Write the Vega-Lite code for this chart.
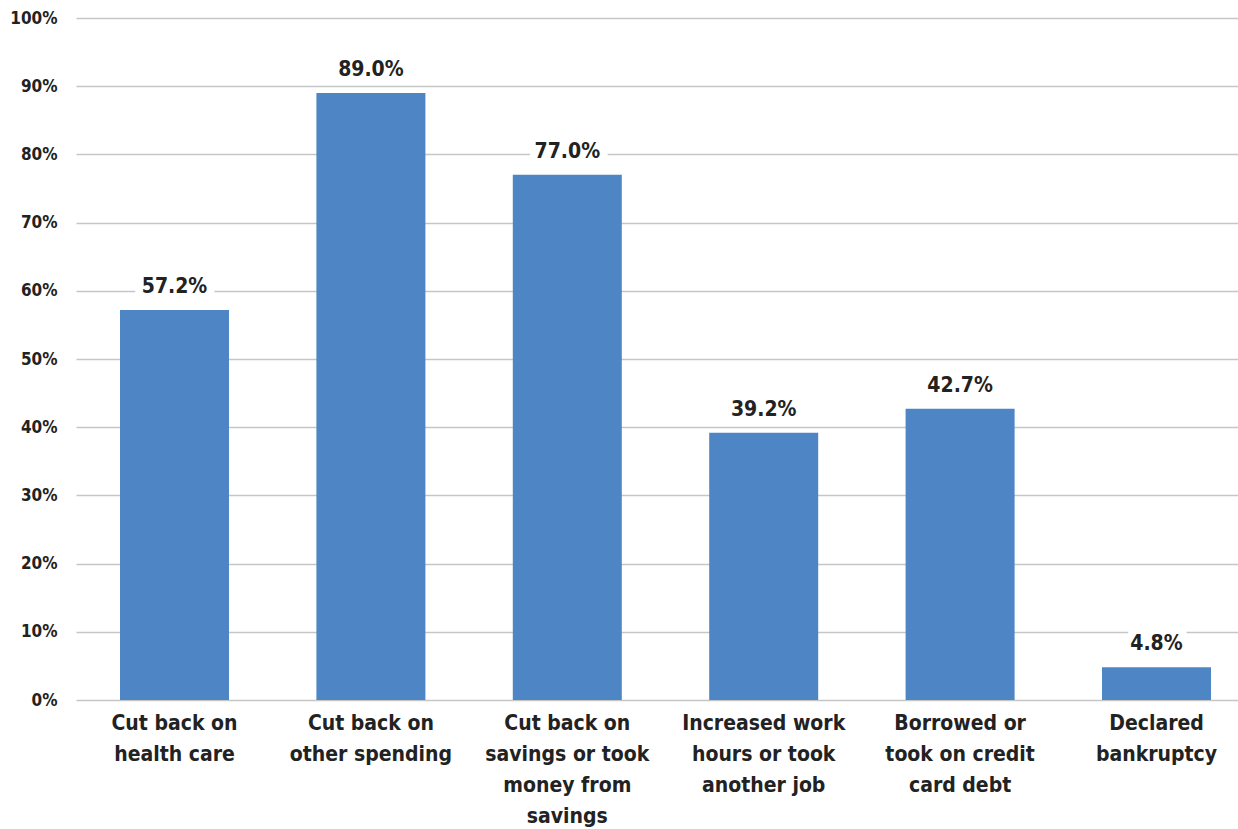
{
  "$schema": "https://vega.github.io/schema/vega-lite/v6.json",
  "autosize": "none",
  "width": 1179,
  "height": 682,
  "padding": {"left": 76, "top": 18, "right": 0, "bottom": 129},
  "background": "white",
  "data": {
    "values": [
      {"category": "Cut back on|health care", "value": 0.572, "label": "57.2%"},
      {"category": "Cut back on|other spending", "value": 0.89, "label": "89.0%"},
      {"category": "Cut back on|savings or took|money from|savings", "value": 0.77, "label": "77.0%"},
      {"category": "Increased work|hours or took|another job", "value": 0.392, "label": "39.2%"},
      {"category": "Borrowed or|took on credit|card debt", "value": 0.427, "label": "42.7%"},
      {"category": "Declared|bankruptcy", "value": 0.048, "label": "4.8%"}
    ]
  },
  "encoding": {
    "x": {
      "field": "category",
      "type": "nominal",
      "sort": null,
      "scale": {"paddingInner": 0.445, "paddingOuter": 0.224},
      "axis": {
        "title": null,
        "labelAngle": 0,
        "labelExpr": "split(datum.value, '|')",
        "labelFont": "DejaVu Sans Condensed, Roboto, sans-serif",
        "labelFontWeight": "bold",
        "labelFontSize": 21,
        "labelLineHeight": 31,
        "labelColor": "#222222",
        "labelPadding": 12,
        "ticks": false,
        "domain": false,
        "labelBaseline": "top"
      }
    },
    "y": {
      "field": "value",
      "type": "quantitative",
      "scale": {"domain": [0, 1], "nice": false},
      "axis": {
        "title": null,
        "format": ".0%",
        "values": [0, 0.1, 0.2, 0.3, 0.4, 0.5, 0.6, 0.7, 0.8, 0.9, 1],
        "labelFont": "DejaVu Sans Condensed, Roboto, sans-serif",
        "labelFontWeight": "bold",
        "labelFontSize": 17,
        "labelColor": "#222222",
        "labelPadding": 19,
        "ticks": false,
        "domain": false,
        "grid": true,
        "gridColor": "#c6c6c6",
        "gridWidth": 1.6
      }
    }
  },
  "layer": [
    {"mark": {"type": "bar", "color": "#4e86c5"}},
    {
      "mark": {"type": "text", "font": "DejaVu Sans Condensed, Roboto, sans-serif", "fontWeight": "bold", "fontSize": 21, "dy": -17, "baseline": "alphabetic", "stroke": "white", "strokeWidth": 16, "strokeJoin": "round", "fill": "white"},
      "encoding": {"text": {"field": "label"}}
    },
    {
      "mark": {"type": "text", "font": "DejaVu Sans Condensed, Roboto, sans-serif", "fontWeight": "bold", "fontSize": 21, "dy": -17, "baseline": "alphabetic", "color": "#222222"},
      "encoding": {"text": {"field": "label"}}
    }
  ],
  "config": {"view": {"stroke": null}}
}
